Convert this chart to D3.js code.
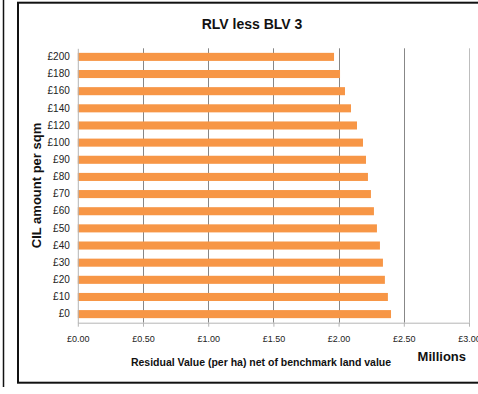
<!DOCTYPE html>
<html>
<head>
<meta charset="utf-8">
<script src="https://cdn.jsdelivr.net/npm/d3@7"></script>
<style>
  html, body { margin: 0; padding: 0; background: #fff; }
  svg { display: block; font-family: Arial, "Liberation Sans", sans-serif; }
</style>
</head>
<body>
<svg id="chart" width="478" height="394"></svg>
<script>
// CIL rate bands (per sqm), bottom to top
const categories = ["£0", "£10", "£20", "£30", "£40", "£50", "£60", "£70", "£80",
                    "£90", "£100", "£120", "£140", "£160", "£180", "£200"];
// Residual value net of benchmark land value, £ millions per ha
const values = [2.402, 2.378, 2.355, 2.340, 2.317, 2.294, 2.271, 2.248, 2.225,
                2.210, 2.187, 2.141, 2.095, 2.049, 2.011, 1.965];
const xTicks = [0, 0.5, 1, 1.5, 2, 2.5, 3];
const xTickLabels = ["£0.00", "£0.50", "£1.00", "£1.50", "£2.00", "£2.50", "£3.00"];

const chartTitle = "RLV less BLV 3";
const yTitle = "CIL amount per sqm";
const xTitle = "Residual Value (per ha) net of benchmark land value";
const unitsLabel = "Millions";

const svg = d3.select("#chart");

// neighbouring panel edge and the chart frame
svg.append("line")
  .attr("x1", 3.5).attr("x2", 3.5).attr("y1", -2).attr("y2", 387)
  .attr("stroke", "#111").attr("stroke-width", 1.5);
svg.append("rect")
  .attr("x", 18).attr("y", 2.7).attr("width", 480).attr("height", 380)
  .attr("fill", "#fff").attr("stroke", "#111").attr("stroke-width", 2);

const plot = { left: 77.8, right: 469, top: 48.3, bottom: 322.7 };

const x = d3.scaleLinear().domain([0, 3]).range([plot.left, plot.right]);
const y = d3.scaleBand()
  .domain(categories.slice().reverse())
  .range([plot.top, plot.bottom])
  .paddingInner(0.53)
  .paddingOuter(0.265);

// vertical gridlines
svg.append("g").selectAll("line")
  .data(xTicks.filter(d => d > 0))
  .join("line")
  .attr("x1", d => Math.round(x(d)) + 0.5).attr("x2", d => Math.round(x(d)) + 0.5)
  .attr("y1", plot.top).attr("y2", plot.bottom)
  .attr("stroke", d => d === 3 ? "#bdbdbd" : "#878787")
  .attr("stroke-width", 1);

// bars
svg.append("g").selectAll("rect")
  .data(categories.map((c, i) => ({ c, v: values[i] })))
  .join("rect")
  .attr("x", x(0))
  .attr("y", d => y(d.c))
  .attr("width", d => x(d.v) - x(0))
  .attr("height", y.bandwidth())
  .attr("fill", "#F79646");

// x axis
const xAxis = svg.append("g")
  .attr("transform", `translate(0,${plot.bottom})`)
  .call(d3.axisBottom(x).tickValues(xTicks)
    .tickFormat((d, i) => xTickLabels[i])
    .tickSize(4).tickSizeOuter(0).tickPadding(9));
xAxis.select(".domain").attr("stroke", "#b5b5b5");
xAxis.selectAll(".tick line").attr("stroke", "#b5b5b5");
xAxis.selectAll(".tick text")
  .attr("font-size", 9).attr("fill", "#222")
  .attr("font-family", "Arial, 'Liberation Sans', sans-serif");

// y axis
const yAxis = svg.append("g")
  .attr("transform", `translate(${plot.left},0)`)
  .call(d3.axisLeft(y).tickSize(0).tickPadding(8));
yAxis.select(".domain").attr("stroke", "#b5b5b5");
yAxis.selectAll(".tick text")
  .attr("font-size", 10).attr("fill", "#222")
  .attr("font-family", "Arial, 'Liberation Sans', sans-serif");

// titles
svg.append("text")
  .attr("x", 252).attr("y", 29)
  .attr("text-anchor", "middle")
  .attr("font-size", 14).attr("font-weight", "bold").attr("fill", "#111")
  .text(chartTitle);

svg.append("text")
  .attr("transform", `translate(40.5,${(plot.top + plot.bottom) / 2}) rotate(-90)`)
  .attr("text-anchor", "middle")
  .attr("font-size", 13).attr("font-weight", "bold").attr("fill", "#111")
  .text(yTitle);

svg.append("text")
  .attr("x", 261).attr("y", 365.5)
  .attr("text-anchor", "middle")
  .attr("font-size", 10.5).attr("font-weight", "bold").attr("fill", "#111")
  .text(xTitle);

svg.append("text")
  .attr("x", 466).attr("y", 361)
  .attr("text-anchor", "end")
  .attr("font-size", 13).attr("font-weight", "bold").attr("fill", "#111")
  .text(unitsLabel);
</script>
</body>
</html>
